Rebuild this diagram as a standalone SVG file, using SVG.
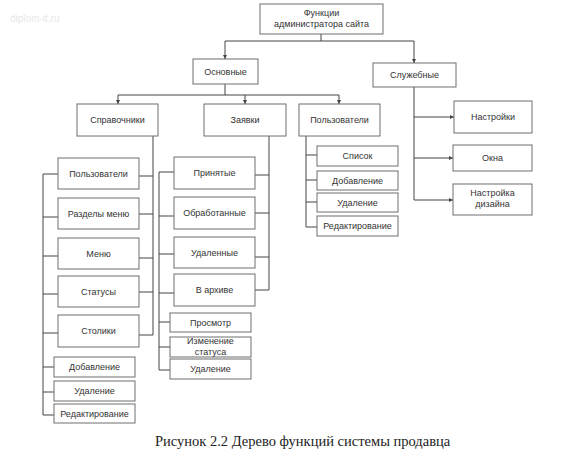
<svg xmlns="http://www.w3.org/2000/svg" width="568" height="460" viewBox="0 0 568 460">
<style>
.b{fill:#fff;stroke:#6e6e6e;stroke-width:1}
.t{font-family:"Liberation Sans",Arial,sans-serif;font-size:9px;fill:#333;text-anchor:middle}
.c{fill:none;stroke:#444;stroke-width:1}
.cap{font-family:"Liberation Serif","Times New Roman",serif;font-size:14.5px;fill:#222}
.wm{font-family:"Liberation Sans",Arial,sans-serif;font-size:10px;fill:#e8e8e8}
</style>
<defs>
<marker id="a" viewBox="0 0 6 6" refX="6" refY="3" markerWidth="4" markerHeight="4" orient="auto" markerUnits="userSpaceOnUse">
<path d="M0,0 L6,3 L0,6 Z" fill="#444"/>
</marker>
</defs>
<rect width="568" height="460" fill="#fff"/>
<text class="wm" x="10" y="22">diplom-it.ru</text>
<g id="connectors">
<path class="c" d="M321,34 V41 M225,41 H414"/>
<path class="c" d="M225,41 V59" marker-end="url(#a)"/>
<path class="c" d="M414,41 V63" marker-end="url(#a)"/>
<path class="c" d="M225,84 V95 M118,95 H339"/>
<path class="c" d="M118,95 V104" marker-end="url(#a)"/>
<path class="c" d="M245,95 V104" marker-end="url(#a)"/>
<path class="c" d="M339,95 V104" marker-end="url(#a)"/>
<path class="c" d="M414,87 V200"/>
<path class="c" d="M414,117 H454" marker-end="url(#a)"/>
<path class="c" d="M414,158 H453" marker-end="url(#a)"/>
<path class="c" d="M414,200 H453" marker-end="url(#a)"/>
<path class="c" d="M306,136 V227 M306,155 H317 M306,180 H317 M306,202 H317 M306,227 H317"/>
<path class="c" d="M153,136 V335 M139,176 H153 M139,214 H153 M139,258 H153 M139,292 H153 M139,335 H153"/>
<path class="c" d="M43,174 V415 M43,174 H58 M43,217 H58 M43,256 H58 M43,294 H58 M43,333 H58 M43,367 H54 M43,392 H54 M43,415 H54"/>
<path class="c" d="M269,136 V290 M255,175 H269 M255,213 H269 M255,257 H269 M255,290 H269"/>
<path class="c" d="M159,172 V370 M159,172 H174 M159,216 H174 M159,254 H174 M159,293 H174 M159,322 H170 M159,347 H170 M159,370 H170"/>
</g>
<g id="root"><rect class="b" x="260" y="4" width="123" height="30"/><text class="t" x="321.5" y="16">Функции</text><text class="t" x="321.5" y="27">администратора сайта</text></g>
<g id="osnovnye"><rect class="b" x="193" y="59" width="65" height="25"/><text class="t" x="225.5" y="74.5">Основные</text></g>
<g id="sluzhebnye"><rect class="b" x="373" y="63" width="83" height="24"/><text class="t" x="414.5" y="78">Служебные</text></g>
<g id="spravochniki"><rect class="b" x="77" y="104" width="81" height="32"/><text class="t" x="117.5" y="123">Справочники</text></g>
<g id="zayavki"><rect class="b" x="204" y="104" width="82" height="32"/><text class="t" x="245" y="123">Заявки</text></g>
<g id="polzovateli"><rect class="b" x="299" y="104" width="81" height="32"/><text class="t" x="339.5" y="123">Пользователи</text></g>
<g id="nastroyki"><rect class="b" x="454" y="101" width="78" height="32"/><text class="t" x="493" y="120">Настройки</text></g>
<g id="okna"><rect class="b" x="453" y="145" width="79" height="26"/><text class="t" x="492.5" y="161">Окна</text></g>
<g id="nastroyka-dizayna"><rect class="b" x="453" y="184" width="79" height="31"/><text class="t" x="492.5" y="196">Настройка</text><text class="t" x="492.5" y="207">дизайна</text></g>
<g id="p-spisok"><rect class="b" x="317" y="146" width="81" height="20"/><text class="t" x="357.5" y="159">Список</text></g>
<g id="p-dobavlenie"><rect class="b" x="317" y="171" width="81" height="19"/><text class="t" x="357.5" y="183.5">Добавление</text></g>
<g id="p-udalenie"><rect class="b" x="317" y="193" width="81" height="19"/><text class="t" x="357.5" y="205.5">Удаление</text></g>
<g id="p-redaktirovanie"><rect class="b" x="317" y="216" width="81" height="20"/><text class="t" x="357.5" y="229">Редактирование</text></g>
<g id="s-polzovateli"><rect class="b" x="58" y="158" width="81" height="31"/><text class="t" x="98.5" y="176.5">Пользователи</text></g>
<g id="s-razdely"><rect class="b" x="58" y="198" width="81" height="31"/><text class="t" x="98.5" y="216.5">Разделы меню</text></g>
<g id="s-menu"><rect class="b" x="58" y="238" width="81" height="31"/><text class="t" x="98.5" y="256.5">Меню</text></g>
<g id="s-statusy"><rect class="b" x="58" y="276" width="81" height="31"/><text class="t" x="98.5" y="294.5">Статусы</text></g>
<g id="s-stoliki"><rect class="b" x="58" y="315" width="81" height="32"/><text class="t" x="98.5" y="334">Столики</text></g>
<g id="s-dobavlenie"><rect class="b" x="54" y="357" width="81" height="20"/><text class="t" x="94.5" y="370">Добавление</text></g>
<g id="s-udalenie"><rect class="b" x="54" y="381" width="81" height="20"/><text class="t" x="94.5" y="394">Удаление</text></g>
<g id="s-redaktirovanie"><rect class="b" x="54" y="404" width="81" height="19"/><text class="t" x="94.5" y="416.5">Редактирование</text></g>
<g id="z-prinyatye"><rect class="b" x="174" y="157" width="81" height="32"/><text class="t" x="214.5" y="176">Принятые</text></g>
<g id="z-obrabotannye"><rect class="b" x="174" y="197" width="81" height="32"/><text class="t" x="214.5" y="216">Обработанные</text></g>
<g id="z-udalennye"><rect class="b" x="174" y="237" width="81" height="31"/><text class="t" x="214.5" y="255.5">Удаленные</text></g>
<g id="z-v-arhive"><rect class="b" x="174" y="274" width="81" height="32"/><text class="t" x="214.5" y="293">В архиве</text></g>
<g id="z-prosmotr"><rect class="b" x="170" y="313" width="81" height="19"/><text class="t" x="210.5" y="325.5">Просмотр</text></g>
<g id="z-izmenenie"><rect class="b" x="170" y="337" width="81" height="20"/><text class="t" x="210.5" y="344">Изменение</text><text class="t" x="210.5" y="355">статуса</text></g>
<g id="z-udalenie"><rect class="b" x="170" y="359" width="81" height="20"/><text class="t" x="210.5" y="372">Удаление</text></g>
<text class="cap" x="155" y="446">Рисунок 2.2 Дерево функций системы продавца</text>
</svg>
